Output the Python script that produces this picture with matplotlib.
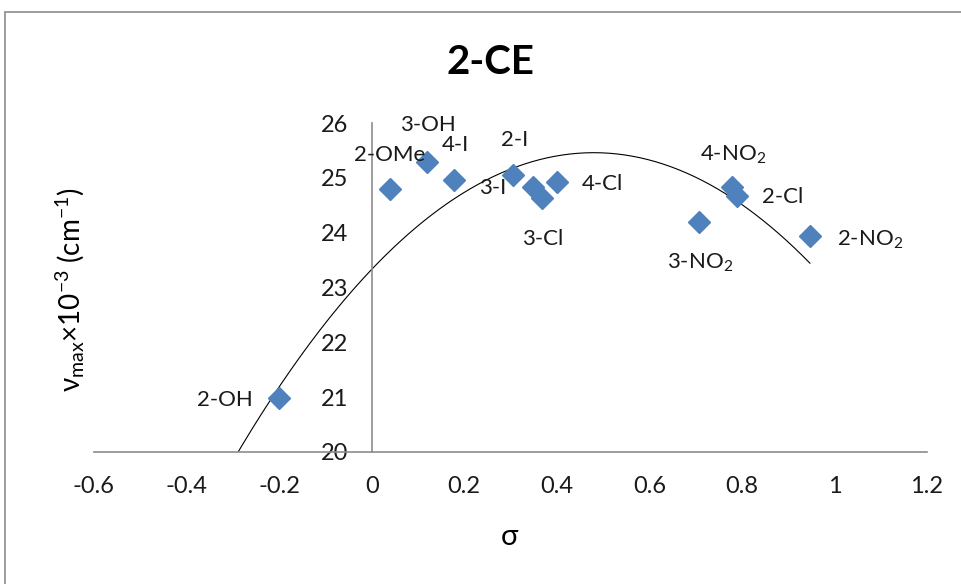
import numpy as np
import matplotlib
matplotlib.use("Agg")
import matplotlib.pyplot as plt
from matplotlib.patches import Rectangle

plt.rcParams['font.family'] = ['Lato', 'DejaVu Sans']
plt.rcParams['mathtext.fontset'] = 'custom'
plt.rcParams['mathtext.rm'] = 'Lato'
plt.rcParams['mathtext.it'] = 'Lato:italic'
plt.rcParams['mathtext.default'] = 'regular'

# Substituent constants (sigma) and absorption maxima (x10^-3 cm^-1)
labels = ['2-OH', '2-OMe', '3-OH', '4-I', '2-I', '3-I', '3-Cl', '4-Cl',
          '4-NO$_2$', '2-Cl', '3-NO$_2$', '2-NO$_2$']
sigma = [-0.20, 0.039, 0.119, 0.178, 0.305, 0.349, 0.368, 0.400,
         0.778, 0.789, 0.707, 0.947]
nu_max = [20.98, 24.80, 25.29, 24.96, 25.05, 24.83, 24.63, 24.92,
          24.83, 24.67, 24.19, 23.94]

# order-2 polynomial trendline as shown on the chart (a*x^2 + b*x + c)
trend_coef = [-9.24, 8.87, 23.33]
trend_back = 0.1  # backward forecast

x_ticks = [-0.6, -0.4, -0.2, 0, 0.2, 0.4, 0.6, 0.8, 1, 1.2]
x_ticklabels = ['-0.6', '-0.4', '-0.2', '0', '0.2', '0.4', '0.6', '0.8', '1', '1.2']
y_ticks = [20, 21, 22, 23, 24, 25, 26]

# label placement (pixels from the point)
label_offsets = {
    '2-OH': (-54, -2), '2-OMe': (0, 34), '3-OH': (1, 37), '4-I': (1, 35),
    '2-I': (2, 35), '3-I': (-41, -1), '3-Cl': (1, -41), '4-Cl': (46, -2),
    '4-NO$_2$': (1, 32), '2-Cl': (46, -1), '3-NO$_2$': (1, -41),
    '2-NO$_2$': (60, -4),
}

fig = plt.figure(figsize=(9.61, 5.84), dpi=100)
W, H = 961, 584
ax = fig.add_axes([94 / W, 1 - 452 / H, (927 - 94) / W, (452 - 123) / H])

# chart border
fig.patches.append(Rectangle((5 / W, -0.05), 1.1, 1 - 12 / H + 0.05,
                             transform=fig.transFigure, fill=False,
                             edgecolor='#8c8c8c', linewidth=1.2))

xs = np.linspace(min(sigma) - trend_back, max(sigma), 300)
ax.plot(xs, np.polyval(trend_coef, xs), color='black', linewidth=0.8, zorder=2)

ax.plot(sigma, nu_max, linestyle='none', marker='D', markersize=11.5,
        color='#4F81BD', markeredgecolor='#4F81BD', zorder=3)

for lab, x, y in zip(labels, sigma, nu_max):
    dx, dy = label_offsets[lab]
    ax.annotate(lab, (x, y), xytext=(dx, dy), textcoords='offset pixels',
                ha='center', va='center', fontsize=16, color='#1a1a1a')

ax.set_xlim(-0.6, 1.2)
ax.set_ylim(20, 26)
ax.set_xticks(x_ticks)
ax.set_xticklabels(x_ticklabels)
ax.set_yticks(y_ticks)

for s in ['top', 'right']:
    ax.spines[s].set_visible(False)
ax.spines['left'].set_position(('data', 0))
ax.spines['left'].set_color('#8c8c8c')
ax.spines['bottom'].set_color('#8c8c8c')
ax.spines['left'].set_linewidth(1.2)
ax.spines['bottom'].set_linewidth(1.2)
ax.tick_params(axis='both', length=0, labelsize=17, labelcolor='#1a1a1a')
ax.tick_params(axis='x', pad=17)
ax.tick_params(axis='y', pad=17)
for t in ax.get_yticklabels():
    t.set_bbox(dict(facecolor='white', edgecolor='none', pad=0.5))

fig.text(510 / W, 1 - 537 / H, 'σ', ha='center', va='center', fontsize=21)
fig.text(70 / W, 1 - 290 / H, r'$\nu_{max}$×10$^{-3}$ (cm$^{-1}$)',
         rotation=90, ha='center', va='center', fontsize=20)
fig.text(490 / W, 1 - 63 / H, '2-CE', ha='center', va='center',
         fontsize=29, fontweight='bold')

fig.savefig('out.png', dpi=100)
